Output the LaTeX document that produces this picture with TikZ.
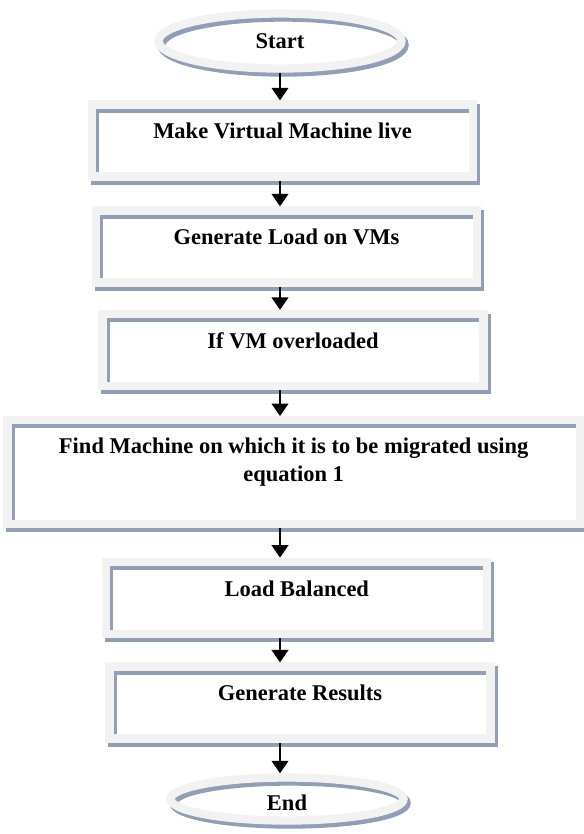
\documentclass[tikz,border=0pt]{standalone}
\usepackage{fontspec}
\setmainfont{Liberation Serif}
\usetikzlibrary{arrows.meta,positioning,shapes}
\definecolor{framegray}{RGB}{242,242,242}
\definecolor{shadegray}{RGB}{145,158,180}

\begin{document}
\begin{tikzpicture}[x=0.6pt,y=-0.6pt,
  flow/.style={-{Triangle[length=7.5pt,width=10pt]},line width=1.2pt},
  framed/.style={draw=framegray,line width=5pt,
    preaction={draw=shadegray,line width=5pt,transform canvas={shift={(1.8pt,-2.4pt)}}}},
  proc node/.style={framed,rectangle,minimum width=228.6pt,minimum height=43.2pt,
    text height=9pt,text depth=11pt,align=center},
  term node/.style={framed,ellipse,inner sep=0pt}]%
\useasboundingbox (0,0) rectangle (583,834);
\begin{scope}[every node/.style={font=\fontsize{13.5}{16.4}\selectfont\bfseries}]
\node[term node,minimum width=145.8pt,minimum height=33pt] (start) at (280,41) {Start};
\node[proc node] (live) at (282.5,140.5) {Make Virtual Machine live};
\node[proc node] (load) at (286.5,246.5) {Generate Load on VMs};
\node[proc node] (over) at (293,350) {If VM overloaded};
\node[proc node,minimum width=343.5pt,minimum height=62.1pt,text height=11pt,text depth=0pt] (find) at (293.7,472)
  {Find Machine on which it is to be migrated using\\ equation 1};
\node[proc node] (bal) at (296.8,597.8) {Load Balanced};
\node[proc node] (res) at (300,702.6) {Generate Results};
\node[term node,minimum width=139.8pt,minimum height=25.8pt,text height=14pt,text depth=0pt] (end) at (287,799) {End};
\end{scope}
\begin{scope}
\draw[flow] (start.south) -- (live.north -| start);
\draw[flow] (live.south -| start) -- (load.north -| start);
\draw[flow] (load.south -| start) -- (over.north -| start);
\draw[flow] (over.south -| start) -- (find.north -| start);
\draw[flow] (find.south -| start) -- (bal.north -| start);
\draw[flow] (bal.south -| start) -- (res.north -| start);
\draw[flow] (res.south -| start) -- (end.north -| start);
\end{scope}
\end{tikzpicture}
\end{document}
